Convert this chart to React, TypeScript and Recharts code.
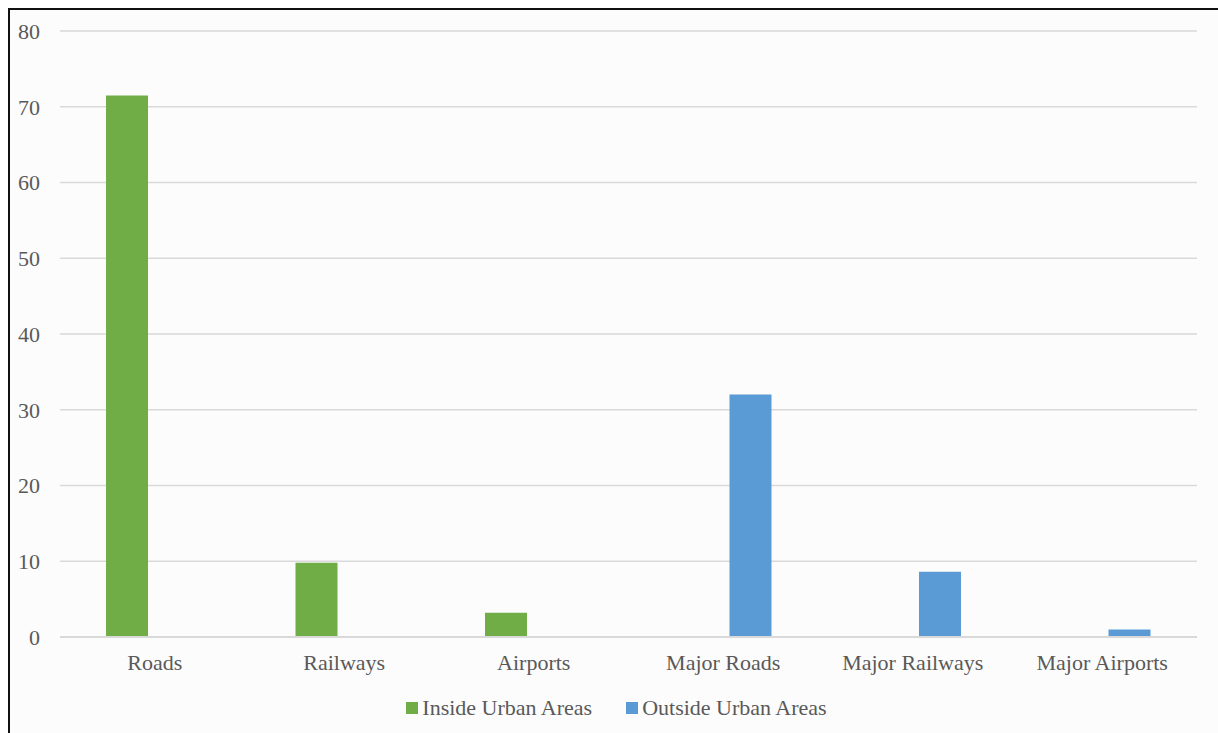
import React from "react";
import { BarChart, Bar, XAxis, YAxis, CartesianGrid, Legend } from "recharts";

const categories = ["Roads", "Railways", "Airports", "Major Roads", "Major Railways", "Major Airports"];
const insideValues: (number | null)[] = [71.5, 9.8, 3.2, null, null, null];
const outsideValues: (number | null)[] = [null, null, null, 32, 8.6, 1.0];
const yTicks = [0, 10, 20, 30, 40, 50, 60, 70, 80];
const seriesNames = ["Inside Urban Areas", "Outside Urban Areas"];
const seriesColors = ["#70AD47", "#5B9BD5"];

const data = categories.map((c, i) => ({
  name: c,
  inside: insideValues[i],
  outside: outsideValues[i],
}));

const FONT = "'Liberation Serif', 'Times New Roman', serif";
const TEXT = "#595959";
const FS = 22;

const LegendContent = () => (
  <div
    style={{
      display: "flex",
      justifyContent: "center",
      alignItems: "center",
      height: 24,
      lineHeight: "24px",
      fontFamily: FONT,
      fontSize: FS,
      color: TEXT,
      paddingLeft: 26,
    }}
  >
    {seriesNames.map((n, i) => (
      <div key={n} style={{ display: "flex", alignItems: "center", marginRight: i === 0 ? 34 : 0 }}>
        <span style={{ display: "inline-block", width: 12, height: 12, background: seriesColors[i], marginRight: 4 }} />
        <span>{n}</span>
      </div>
    ))}
  </div>
);

export default function App() {
  return (
    <div
      style={{
        position: "fixed",
        left: 8,
        top: 8,
        width: 1210,
        height: 725,
        boxSizing: "border-box",
        borderTop: "2px solid #111",
        borderLeft: "2px solid #111",
        background: "#fcfcfc",
        overflow: "hidden",
      }}
    >
      <BarChart
        width={1208}
        height={715}
        data={data}
        margin={{ top: 21, right: 21, left: 0, bottom: 5 }}
        barSize={42}
        barGap={13}
      >
        <CartesianGrid vertical={false} stroke="#d9d9d9" strokeWidth={1.5} />
        <XAxis
          dataKey="name"
          height={59}
          tickLine={false}
          tickSize={0}
          tickMargin={17}
          axisLine={{ stroke: "#d9d9d9", strokeWidth: 2 }}
          tick={{ fill: TEXT, fontSize: FS, fontFamily: FONT }}
          interval={0}
        />
        <YAxis
          width={50}
          domain={[0, 80]}
          ticks={yTicks}
          axisLine={false}
          tickLine={false}
          tickSize={0}
          tickMargin={20}
          tick={{ fill: TEXT, fontSize: FS, fontFamily: FONT }}
        />
        <Legend verticalAlign="bottom" height={24} content={<LegendContent />} />
        <Bar dataKey="inside" name={seriesNames[0]} fill={seriesColors[0]} isAnimationActive={false} />
        <Bar dataKey="outside" name={seriesNames[1]} fill={seriesColors[1]} isAnimationActive={false} />
      </BarChart>
    </div>
  );
}
